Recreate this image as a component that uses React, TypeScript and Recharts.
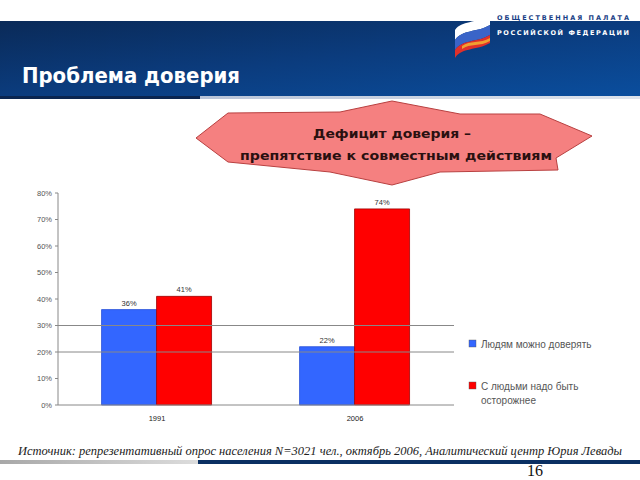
import React from "react";
import { BarChart, Bar, XAxis, YAxis, ReferenceLine, LabelList } from "recharts";

const categories = ["1991", "2006"];
const trustValues = [36, 22];
const cautiousValues = [41, 74];
const yTicks = [0, 10, 20, 30, 40, 50, 60, 70, 80];
const gridValues = [20, 30];
const seriesNames = ["Людям можно доверять", "С людьми надо быть осторожнее"];
const legendLines = [["Людям можно доверять"], ["С людьми надо быть", "осторожнее"]];
const seriesColors = ["#3366ff", "#ff0000"];

const data = categories.map((c, i) => ({
  year: c,
  trust: trustValues[i],
  cautious: cautiousValues[i],
}));

const FONT = "'Liberation Sans', Arial, sans-serif";

const Decorations = () => (
  <svg width={640} height={480} style={{ position: "absolute", left: 0, top: 0 }}>
    <defs>
      <linearGradient id="hdr" x1="0" y1="0" x2="1" y2="1">
        <stop offset="0" stopColor="#0a2a58" />
        <stop offset="0.5" stopColor="#0b3c7e" />
        <stop offset="1" stopColor="#0a4e9e" />
      </linearGradient>
      <linearGradient id="hdrLine" x1="0" y1="0" x2="1" y2="0">
        <stop offset="0" stopColor="#b8c4d8" />
        <stop offset="1" stopColor="#dde3ec" />
      </linearGradient>
      <linearGradient id="ftrLeft" x1="0" y1="0" x2="1" y2="0">
        <stop offset="0" stopColor="#a8a8a8" />
        <stop offset="1" stopColor="#dcdcdc" />
      </linearGradient>
    </defs>
    <rect x={0} y={21} width={640} height={76} fill="url(#hdr)" />
    <rect x={0} y={96} width={200} height={3} fill="#0a2550" />
    <rect x={200} y={96} width={440} height={3} fill="url(#hdrLine)" />
    {/* flag logo */}
    <path d="M455,30 C462,20 475,24 490,15 L490,25 C476,33 463,29 455,40 Z" fill="#ffffff" />
    <path d="M455,40 C463,29 476,33 490,25 L490,35 C476,43 463,39 455,50 Z" fill="#3a64c8" />
    <path d="M455,50 C463,39 476,43 490,35 L490,43 C476,51 462,47 455,58 Z" fill="#e0302a" />
    <path d="M462,46 C470,40 480,44 490,38 L490,41 C480,47 470,43 462,49 Z" fill="#f0a030" />
    <text x={497} y={20} fontFamily="'DejaVu Sans', sans-serif" fontWeight="bold" fontSize={6.5} fill="#1b3f86" textLength={132} lengthAdjust="spacing">ОБЩЕСТВЕННАЯ ПАЛАТА</text>
    <text x={497} y={35} fontFamily="'DejaVu Sans', sans-serif" fontWeight="bold" fontSize={6.5} fill="#ffffff" textLength={132} lengthAdjust="spacing">РОССИЙСКОЙ ФЕДЕРАЦИИ</text>
    <text x={22} y={83} fontFamily="'DejaVu Sans Condensed', 'DejaVu Sans', sans-serif" fontWeight="bold" fontSize={21} fill="#ffffff" textLength={218} lengthAdjust="spacingAndGlyphs">Проблема доверия</text>
    {/* star */}
    <polygon
      points="196,138 228,113 340,112 392,101 460,114 540,114 592,136 556,158 558,170 440,172 392,185 330,172 228,162"
      fill="#f58080"
      stroke="#b84040"
      strokeWidth={1}
    />
    <text x={392} y={138} textAnchor="middle" fontFamily="'DejaVu Sans', sans-serif" fontWeight="bold" fontSize={12.5} fill="#2a1010" textLength={158} lengthAdjust="spacingAndGlyphs">Дефицит доверия –</text>
    <text x={396} y={160} textAnchor="middle" fontFamily="'DejaVu Sans', sans-serif" fontWeight="bold" fontSize={12.5} fill="#2a1010" textLength={312} lengthAdjust="spacingAndGlyphs">препятствие к совместным действиям</text>
    {/* legend */}
    {legendLines.map((lines, i) => (
      <g key={i}>
        <rect x={469} y={i === 0 ? 340 : 382} width={7} height={7} fill={seriesColors[i]} stroke="#555" strokeWidth={0.4} />
        {lines.map((l, j) => (
          <text key={j} x={481} y={(i === 0 ? 348 : 390) + j * 14} fontFamily={FONT} fontSize={10} fill="#555">{l}</text>
        ))}
      </g>
    ))}
    {/* footer */}
    <text x={18} y={455} fontFamily="'Liberation Serif', 'Times New Roman', serif" fontStyle="italic" fontSize={12.5} fill="#222" textLength={604} lengthAdjust="spacingAndGlyphs">Источник: репрезентативный опрос населения N=3021 чел., октябрь 2006, Аналитический центр Юрия Левады</text>
    <rect x={0} y={460} width={198} height={4} fill="url(#ftrLeft)" />
    <rect x={198} y={460} width={442} height={4} fill="#0a2f62" />
    <text x={535} y={476} textAnchor="middle" fontFamily="'Liberation Serif', serif" fontSize={16} fill="#111">16</text>
  </svg>
);

export default function App() {
  return (
    <div style={{ position: "absolute", left: 0, top: 0, width: 640, height: 480, background: "#fff", overflow: "hidden" }}>
      <Decorations />
      <div style={{ position: "absolute", left: 0, top: 0 }}>
        <BarChart
          width={640}
          height={480}
          data={data}
          margin={{ top: 193, right: 186, bottom: 55, left: 28 }}
          barGap={0}
          barCategoryGap="22%"
        >
          <XAxis
            dataKey="year"
            tickLine={false}
            axisLine={{ stroke: "#888" }}
            tick={{ fontSize: 7.5, fill: "#222", fontFamily: FONT }}
            tickMargin={5}
            height={20}
          />
          <YAxis
            domain={[0, 80]}
            ticks={yTicks}
            interval={0}
            tickFormatter={(v) => `${v}%`}
            width={30}
            tickSize={3}
            tickMargin={3}
            axisLine={{ stroke: "#888" }}
            tickLine={{ stroke: "#888" }}
            tick={{ fontSize: 7.5, fill: "#555", fontFamily: FONT }}
          />
          {gridValues.map((v) => (
            <ReferenceLine key={v} y={v} stroke="#888" strokeWidth={1} />
          ))}
          <Bar dataKey="trust" name={seriesNames[0]} fill={seriesColors[0]} stroke="#2a50d8" strokeWidth={0.8} isAnimationActive={false}>
            <LabelList dataKey="trust" position="top" offset={4} formatter={(v: number) => `${v}%`} style={{ fontSize: 7.5, fill: "#333", fontFamily: FONT }} />
          </Bar>
          <Bar dataKey="cautious" name={seriesNames[1]} fill={seriesColors[1]} stroke="#a00000" strokeWidth={0.8} isAnimationActive={false}>
            <LabelList dataKey="cautious" position="top" offset={4} formatter={(v: number) => `${v}%`} style={{ fontSize: 7.5, fill: "#333", fontFamily: FONT }} />
          </Bar>
        </BarChart>
      </div>
    </div>
  );
}
